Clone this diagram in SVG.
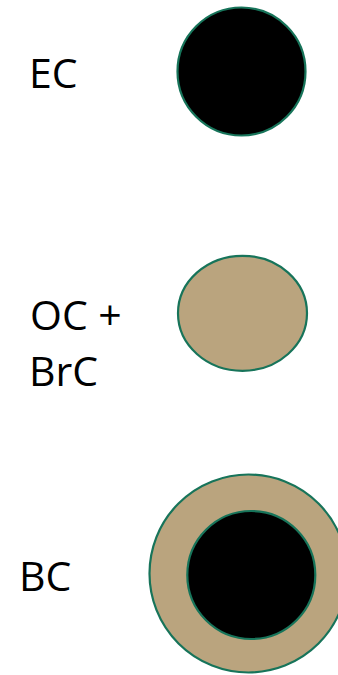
<svg xmlns="http://www.w3.org/2000/svg" width="338" height="675" viewBox="0 0 338 675">
<style>
.lbl{font-family:"Open Sans","Noto Sans","Liberation Sans",sans-serif;font-size:41px;fill:#000}
.dark{fill:#000;stroke:#17745A;stroke-width:2.2}
.tan{fill:#BAA47E;stroke:#17745A;stroke-width:2.2}
</style>
<rect width="338" height="675" fill="#fff"/>
<g id="ec">
<circle class="dark" cx="241.5" cy="71.5" r="64"/>
<text class="lbl" x="29" y="88">EC</text>
</g>
<g id="ocbrc">
<ellipse class="tan" cx="242.5" cy="313.3" rx="64.5" ry="57.5"/>
<text class="lbl" x="30" y="329.5">OC +</text>
<text class="lbl" x="29" y="386">BrC</text>
</g>
<g id="bc">
<circle class="tan" cx="248.5" cy="573.5" r="99"/>
<circle class="dark" cx="251.3" cy="575" r="64"/>
<text class="lbl" x="19" y="591">BC</text>
</g>
<g id="connectors"></g>
</svg>
